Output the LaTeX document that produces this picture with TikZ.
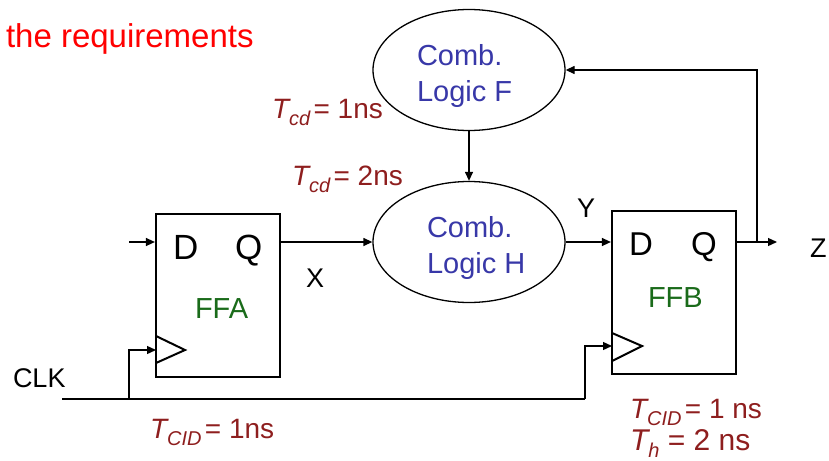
\documentclass[tikz,border=0pt]{standalone}
\usepackage{fontspec}
\setmainfont{Liberation Sans}
\usetikzlibrary{shapes.geometric,arrows.meta}
\definecolor{titlered}{HTML}{FF0000}
\definecolor{logicblue}{HTML}{3838A8}
\definecolor{ffgreen}{HTML}{1A6B1A}
\definecolor{tred}{HTML}{8E1E1E}
\newcommand{\tlab}[2]{{\itshape T}\raisebox{-0.28em}{\fontsize{20}{20}\selectfont\itshape #1}\hspace{0.12em}#2}
\begin{document}
\begin{tikzpicture}[x=1pt,y=-1pt,
  txt/.style={anchor=base west,inner sep=0pt,outer sep=0pt},
  logic/.style={draw,line width=1.3pt,ellipse,minimum width=192pt,minimum height=121pt,inner sep=0pt},
  ffbox/.style={draw,line width=2.2pt,rectangle,minimum width=124pt,minimum height=163pt,inner sep=0pt},
  wire/.style={line width=1.3pt},
  arr/.style={wire,-{Triangle[length=9pt,width=8pt]}},
  clk/.style={line width=2pt,line join=miter}]
\useasboundingbox (0,0) rectangle (829,460);
% title
\node[txt,text=titlered,font=\fontsize{33}{33}\selectfont] (title) at (6,48) {the requirements};
% logic blocks
\node[logic] (f) at (469,70) {};
\node[logic] (h) at (469,242) {};
\node[txt,text=logicblue,font=\fontsize{29}{29}\selectfont] (ft1) at (417,66) {Comb.};
\node[txt,text=logicblue,font=\fontsize{29}{29}\selectfont] (ft2) at (417,101) {Logic F};
\node[txt,text=logicblue,font=\fontsize{29}{29}\selectfont] (ht1) at (427,237) {Comb.};
\node[txt,text=logicblue,font=\fontsize{29}{29}\selectfont] (ht2) at (427,273) {Logic H};
% flip-flops
\node[ffbox] (ffa) at (218,295.5) {};
\node[ffbox] (ffb) at (674,292.5) {};
\node[txt,font=\fontsize{35}{35}\selectfont] (da) at (173,259) {D};
\node[txt,font=\fontsize{35}{35}\selectfont] (qa) at (235,259) {Q};
\node[txt,font=\fontsize{33}{33}\selectfont] (db) at (629,255) {D};
\node[txt,font=\fontsize{33}{33}\selectfont] (qb) at (691,255) {Q};
\node[txt,text=ffgreen,font=\fontsize{29}{29}\selectfont] (fa) at (195,318) {FFA};
\node[txt,text=ffgreen,font=\fontsize{29}{29}\selectfont] (fb) at (648,307) {FFB};
% clock triangles
\draw[clk] (156,336) -- (185,350) -- (156,363);
\draw[clk] (612,333) -- (642,346) -- (612,361);
% signal labels
\node[txt,font=\fontsize{27}{27}\selectfont] (xl) at (306,287) {X};
\node[txt,font=\fontsize{27}{27}\selectfont] (yl) at (577,217) {Y};
\node[txt,font=\fontsize{27}{27}\selectfont] (zl) at (810,257) {Z};
\node[txt,font=\fontsize{27}{27}\selectfont] (clkl) at (13,387) {CLK};
% timing labels
\node[txt,text=tred,font=\fontsize{28}{28}\selectfont] (tcd1) at (272,118) {\tlab{cd}{= 1ns}};
\node[txt,text=tred,font=\fontsize{28}{28}\selectfont] (tcd2) at (292,185) {\tlab{cd}{= 2ns}};
\node[txt,text=tred,font=\fontsize{28}{28}\selectfont] (tcl1) at (150,438) {\tlab{CID}{= 1ns}};
\node[txt,text=tred,font=\fontsize{28}{28}\selectfont] (tcl2) at (630,418) {\tlab{CID}{= 1 ns}};
\node[txt,text=tred,font=\fontsize{30}{30}\selectfont] (th) at (630,450) {{\itshape T}\raisebox{-0.25em}{\fontsize{20}{20}\selectfont\itshape h} = 2 ns};
% coordinates
\coordinate (din) at (129,242);
\coordinate (zend) at (777,242);
\coordinate (fbk) at (757,242);
\coordinate (clkstart) at (62,399);
\coordinate (clka) at (129,399);
\coordinate (clkb) at (585,399);
\coordinate (cka) at (156,350);
\coordinate (ckb) at (612,346);
% connectors
\draw[arr] (din) -- (ffa.west |- din);
\draw[arr] (ffa.east |- h.west) -- (h.west);
\draw[arr] (h.east) -- (ffb.west |- h.east);
\draw[arr] (ffb.east |- h.east) -- (zend);
\draw[arr] (fbk) |- (f.east);
\draw[arr] (f.south) -- (h.north);
\draw[wire] (clkstart) -- (clkb);
\draw[arr] (clka) |- (cka);
\draw[arr] (clkb) |- (ckb);
\end{tikzpicture}
\end{document}
